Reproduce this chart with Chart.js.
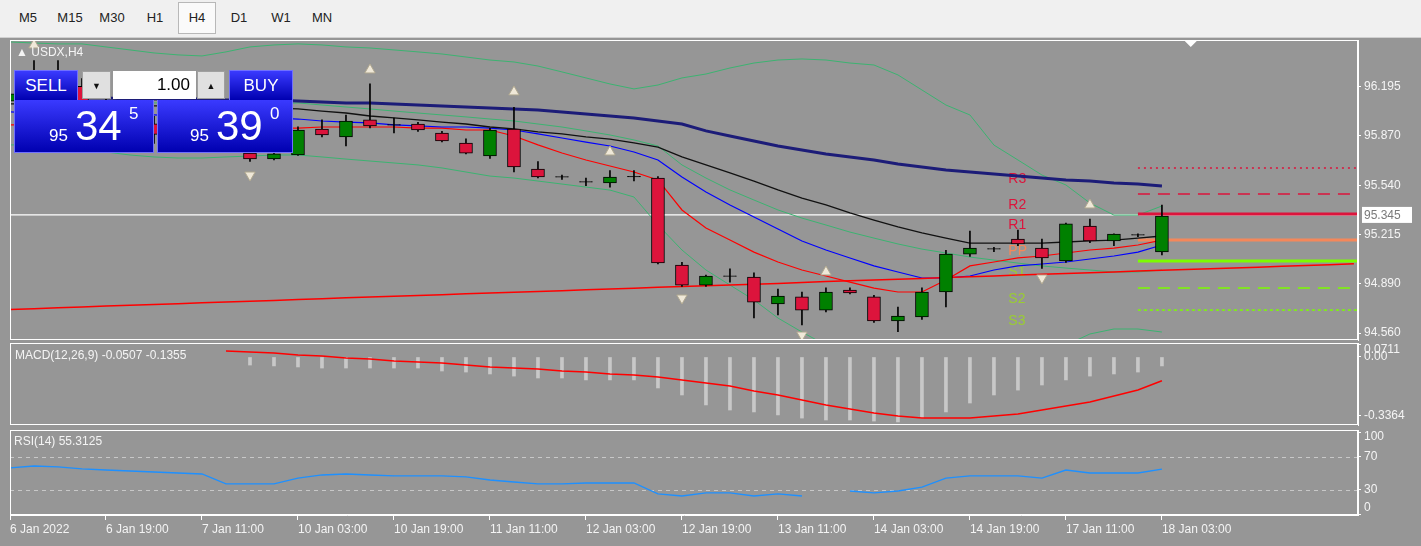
<!DOCTYPE html>
<html><head><meta charset="utf-8">
<script src="https://cdn.jsdelivr.net/npm/chart.js@4.4.1/dist/chart.umd.min.js"></script>
<style>
body{margin:0;width:1421px;height:546px;overflow:hidden;background:#969696;font-family:"Liberation Sans",Arial,sans-serif;position:relative}
#tb{position:absolute;left:0;top:0;width:1421px;height:37px;background:#f0f0f0;border-bottom:1px solid #d0d0d0}
#tb span{position:absolute;top:10px;font-size:13px;color:#222;width:40px;text-align:center}
#tb .sel{top:2px;height:30px;line-height:30px;border:1px solid #b8b8b8;background:#fafafa;width:36px}
canvas{position:absolute;left:0}
.t{position:absolute;color:#f4f4f4;font-size:12px;white-space:nowrap}
.bb{position:absolute;background:linear-gradient(#3a3aff,#0000b0);border:1px solid #7070ff;color:#fff;box-sizing:border-box}
.gb{position:absolute;background:#e0e0e0;border:1px solid #a0a0a0;box-sizing:border-box;font-size:9px;text-align:center;line-height:28px;color:#111}
</style></head><body>
<div id="tb">
<span style="left:8px">M5</span><span style="left:50px">M15</span><span style="left:92px">M30</span><span style="left:135px">H1</span><span class="sel" style="left:178px">H4</span><span style="left:219px">D1</span><span style="left:261px">W1</span><span style="left:302px">MN</span>
</div>
<canvas id="c1" width="1421" height="304" style="top:38px"></canvas>
<canvas id="c2" width="1421" height="86" style="top:341px"></canvas>
<canvas id="c3" width="1421" height="118" style="top:428px"></canvas>
<div class="t" style="left:16px;top:45px;font-size:12px">▲ USDX,H4</div>
<div class="t" style="left:15px;top:348px">MACD(12,26,9) -0.0507 -0.1355</div>
<div class="t" style="left:14px;top:434px">RSI(14) 55.3125</div>
<div class="bb" style="left:14px;top:70px;width:64px;height:31px;font-size:17px;text-align:center;line-height:30px">SELL</div>
<div class="bb" style="left:14px;top:100px;width:140px;height:53px;border-top:none"><span style="position:absolute;left:34px;top:26px;font-size:17px">95</span><span style="position:absolute;left:60px;top:2px;font-size:42px">34</span><span style="position:absolute;left:114px;top:4px;font-size:17px">5</span></div>
<div class="gb" style="left:82px;top:71px;width:29px;height:28px">▼</div>
<div style="position:absolute;left:113px;top:71px;width:83px;height:28px;background:#fff;box-sizing:border-box;font-size:17px;text-align:right;line-height:28px;padding-right:6px;color:#000">1.00</div>
<div class="gb" style="left:197px;top:71px;width:28px;height:28px">▲</div>
<div class="bb" style="left:229px;top:70px;width:64px;height:31px;font-size:17px;text-align:center;line-height:30px">BUY</div>
<div class="bb" style="left:157px;top:100px;width:136px;height:53px;border-top:none"><span style="position:absolute;left:32px;top:26px;font-size:17px">95</span><span style="position:absolute;left:58px;top:2px;font-size:42px">39</span><span style="position:absolute;left:112px;top:4px;font-size:17px">0</span></div>
<script>
const xLabels=["6 Jan 2022","6 Jan 19:00","7 Jan 11:00","10 Jan 03:00","10 Jan 19:00","11 Jan 11:00","12 Jan 03:00","12 Jan 19:00","13 Jan 11:00","14 Jan 03:00","14 Jan 19:00","17 Jan 11:00","18 Jan 03:00"];
const priceTicks=[94.560,94.890,95.215,95.540,95.870,96.195];
const macdTicks=[-0.3364,0,0.0711];
const rsiTicks=[0,30,70,100];
const opens=[96.10,96.15,96.25,96.20,96.08,96.00,95.95,95.88,95.90,95.80,95.756,95.717,95.743,95.916,95.863,95.976,95.943,95.949,95.889,95.823,95.737,95.916,95.650,95.597,95.564,95.557,95.600,95.590,95.012,94.879,94.939,94.932,94.753,94.800,94.713,94.846,94.800,94.640,94.667,94.833,95.085,95.119,95.185,95.125,95.039,95.271,95.172,95.212,95.099];
const highs=[96.20,96.37,96.37,96.25,96.12,96.05,96.00,95.95,95.95,95.85,95.77,95.76,95.93,95.976,96.009,96.215,95.989,95.96,95.90,95.85,95.92,96.06,95.70,95.61,95.59,95.64,95.64,95.60,95.03,94.945,94.986,94.96,94.853,94.833,94.86,94.86,94.81,94.733,94.86,95.11,95.238,95.13,95.245,95.185,95.29,95.318,95.22,95.22,95.41];
const lows=[96.05,96.10,96.15,96.05,95.90,95.85,95.82,95.80,95.79,95.78,95.70,95.71,95.74,95.863,95.803,95.923,95.890,95.90,95.83,95.75,95.72,95.63,95.59,95.58,95.54,95.53,95.57,95.02,94.87,94.87,94.899,94.66,94.68,94.614,94.70,94.82,94.63,94.57,94.65,94.733,95.07,95.10,95.14,94.99,95.03,95.16,95.14,95.20,95.08];
const closes=[96.15,96.25,96.20,96.08,96.00,95.95,95.88,95.90,95.80,95.76,95.717,95.750,95.909,95.876,95.969,95.936,95.943,95.909,95.836,95.756,95.909,95.663,95.597,95.597,95.564,95.597,95.600,95.026,94.879,94.939,94.939,94.766,94.806,94.713,94.833,94.826,94.640,94.673,94.833,95.085,95.125,95.119,95.152,95.059,95.285,95.172,95.218,95.212,95.338];
const maNavy=[96.129,96.129,96.122,96.122,96.122,96.115,96.115,96.115,96.115,96.109,96.109,96.109,96.102,96.095,96.089,96.089,96.082,96.075,96.069,96.062,96.055,96.049,96.042,96.029,96.016,96.002,95.989,95.969,95.949,95.903,95.869,95.836,95.803,95.776,95.750,95.730,95.710,95.683,95.663,95.643,95.630,95.617,95.604,95.590,95.577,95.570,95.557,95.551,95.537];
const maBlack=[96.082,96.082,96.075,96.075,96.075,96.069,96.069,96.069,96.062,96.062,96.062,96.055,96.049,96.035,96.022,96.002,95.989,95.976,95.962,95.949,95.929,95.916,95.896,95.883,95.863,95.849,95.823,95.796,95.730,95.677,95.624,95.570,95.511,95.457,95.411,95.358,95.311,95.265,95.225,95.191,95.158,95.158,95.158,95.158,95.165,95.172,95.178,95.191,95.205];
const maBlue=[96.029,96.022,96.022,96.016,96.016,96.009,96.009,96.002,96.002,95.996,95.996,95.989,95.982,95.969,95.962,95.956,95.943,95.936,95.929,95.929,95.922,95.909,95.883,95.856,95.829,95.803,95.763,95.710,95.597,95.497,95.411,95.331,95.251,95.172,95.112,95.059,95.006,94.966,94.926,94.926,94.939,94.979,95.006,95.019,95.032,95.052,95.072,95.098,95.145];
const maRed=[95.943,95.943,95.936,95.936,95.936,95.929,95.929,95.929,95.929,95.922,95.922,95.922,95.922,95.929,95.929,95.929,95.929,95.922,95.922,95.909,95.909,95.869,95.810,95.756,95.710,95.670,95.630,95.577,95.378,95.258,95.178,95.098,95.032,94.979,94.939,94.899,94.859,94.833,94.833,94.913,95.006,95.032,95.059,95.072,95.092,95.112,95.125,95.145,95.178];
const maLong=[94.717,94.722,94.728,94.733,94.740,94.745,94.750,94.755,94.762,94.767,94.772,94.777,94.783,94.788,94.794,94.799,94.805,94.810,94.815,94.821,94.826,94.832,94.837,94.842,94.848,94.853,94.858,94.864,94.869,94.874,94.880,94.885,94.890,94.896,94.902,94.907,94.912,94.918,94.923,94.929,94.934,94.939,94.945,94.950,94.955,94.961,94.966,94.972,94.977,94.982,94.988,94.993,94.998,95.004,95.009,95.014,95.020];
const bbUpper=[96.494,96.487,96.481,96.481,96.461,96.441,96.421,96.408,96.401,96.428,96.461,96.474,96.481,96.474,96.461,96.454,96.441,96.428,96.414,96.394,96.374,96.361,96.334,96.295,96.255,96.215,96.182,96.208,96.255,96.281,96.321,96.354,96.374,96.381,96.374,96.354,96.341,96.275,96.175,96.075,96.009,95.809,95.710,95.610,95.544,95.424,95.344,95.344,95.404];
const bbMid=[96.109,96.109,96.102,96.102,96.095,96.095,96.089,96.089,96.089,96.082,96.082,96.082,96.089,96.075,96.062,96.049,96.035,96.022,96.009,95.996,95.982,95.969,95.949,95.929,95.903,95.876,95.843,95.803,95.677,95.590,95.511,95.444,95.378,95.324,95.278,95.231,95.191,95.152,95.118,95.092,95.065,95.045,95.025,95.006,94.992,94.979,94.966,94.966,94.979];
const bbLower=[95.810,95.810,95.790,95.776,95.763,95.743,95.730,95.723,95.723,95.730,95.736,95.743,95.743,95.730,95.716,95.703,95.690,95.677,95.657,95.630,95.603,95.590,95.570,95.550,95.530,95.510,95.464,95.278,95.112,94.979,94.879,94.780,94.660,94.567,94.480,94.414,94.414,94.414,94.414,94.414,94.414,94.414,94.414,94.414,94.480,94.554,94.587,94.587,94.567];
const fractalUp=[{i:1,p:96.474},{i:15,p:96.308},{i:21,p:96.162},{i:25,p:95.763},{i:34,p:94.966},{i:45,p:95.411}];
const fractalDown=[{i:10,p:95.610},{i:28,p:94.793},{i:33,p:94.547},{i:43,p:94.926}];
const pivotNames=["R3","R2","R1","PP","S1","S2","S3"];
const pivotValues=[95.657,95.484,95.351,95.178,95.039,94.859,94.713];
const pivotFrom=47, pivotLabelAt=41.6;
const currentPrice=95.345;
const macdHist=[null,null,null,null,null,null,null,null,null,null,-0.046,-0.051,-0.057,-0.063,-0.063,-0.063,-0.063,-0.063,-0.080,-0.086,-0.097,-0.109,-0.120,-0.120,-0.131,-0.131,-0.131,-0.177,-0.217,-0.274,-0.303,-0.314,-0.331,-0.349,-0.360,-0.360,-0.366,-0.371,-0.349,-0.314,-0.263,-0.217,-0.189,-0.160,-0.131,-0.109,-0.097,-0.086,-0.051];
const macdSignal=[null,null,null,null,null,null,null,null,null,0.034,0.029,0.023,0.011,0.006,-0.006,-0.011,-0.023,-0.029,-0.034,-0.046,-0.057,-0.063,-0.069,-0.080,-0.086,-0.097,-0.103,-0.114,-0.131,-0.149,-0.166,-0.194,-0.217,-0.246,-0.274,-0.297,-0.320,-0.337,-0.349,-0.349,-0.349,-0.337,-0.326,-0.303,-0.280,-0.257,-0.223,-0.189,-0.136];
const rsi=[56.7,59.1,57.9,55.5,54.2,53.0,51.8,50.6,49.4,37.3,37.3,37.3,44.5,48.2,49.4,48.2,47.0,47.0,47.0,45.8,42.1,39.7,37.3,37.3,38.5,38.5,38.5,25.2,22.7,26.4,26.4,22.7,25.2,22.7,null,28.8,26.4,28.8,33.6,44.5,47.0,47.0,47.0,44.5,54.2,50.6,50.6,50.6,55.3];

const XMIN=0, XMAX=56.17, W=63;
const FONT={family:"Liberation Sans",size:12};
const TXT="#f4f4f4";
Chart.defaults.animation=false;
Chart.defaults.font=FONT;
const FMT={c1:v=>v.toFixed(3),c2:v=>v===0?'0.00':String(v),c3:v=>String(v)};
const TICKS={c1:priceTicks,c2:macdTicks,c3:rsiTicks};
const pts=a=>a.map((v,i)=>({x:i,y:v}));
const frame={id:'frame',beforeDraw(c){const x=c.ctx;x.save();x.fillStyle='#969696';x.fillRect(0,0,c.width,c.height);x.restore();},
 afterDraw(c){const a=c.chartArea,x=c.ctx,id=c.canvas.id;x.save();x.strokeStyle='#ffffff';x.lineWidth=1;x.strokeRect(a.left+0.5,a.top+0.5,a.width-1,a.height-1);
  const s=c.scales.y;x.fillStyle=TXT;x.font='12px "Liberation Sans"';x.textBaseline='middle';
  TICKS[id].forEach(v=>{let y=s.getPixelForValue(v);y=Math.max(a.top+7,Math.min(a.bottom-7,y));x.fillText(FMT[id](v),a.right+6,y);});
  x.restore();}};
const yAxis=(min,max,ticks)=>({position:'right',min,max,afterFit(s){s.width=W;},
 afterBuildTicks(s){s.ticks=ticks.map(v=>({value:v}));},
 ticks:{display:false},grid:{drawOnChartArea:false,color:'#ffffff',tickLength:3},border:{color:'#ffffff'}});
const xHidden={type:'linear',min:XMIN,max:XMAX,display:false,offset:false};
const common={responsive:false,maintainAspectRatio:false,plugins:{legend:{display:false},tooltip:{enabled:false}}};
const lay=(b)=>({autoPadding:false,padding:{left:10,top:2,right:0,bottom:b}});

const isDoji=i=>Math.abs(opens[i]-closes[i])<0.005;
const bodies=opens.map((o,i)=>({x:i,y:isDoji(i)?[o-0.002,o+0.002]:[o,closes[i]]}));
const bodyColors=opens.map((o,i)=>isDoji(i)?'#000':(closes[i]>o?'#008000':'#dc143c'));
const wicks=highs.map((h,i)=>({x:i,y:[lows[i],h]}));
const pivColors=['#dc143c','#dc143c','#dc143c','#f5875a','#7cfc00','#7cfc00','#7cfc00'];
const pivTxt=['#dc143c','#dc143c','#dc143c','#f5875a','#9acd32','#9acd32','#9acd32'];
const pivDash=[[2,4],[12,8],[],[],[],[12,8],[3,3]];
const pivW=[1.5,1.5,3,3,3,1.5,1.5];
const line=(data,color,w,ord=2)=>({type:'line',data:pts(data),borderColor:color,borderWidth:w,pointRadius:0,order:ord,spanGaps:false});
const ds=[
 {type:'bar',data:bodies,backgroundColor:bodyColors,borderColor:'#000',borderWidth:1,borderSkipped:false,barThickness:13,grouped:false,order:0},
 {type:'bar',data:wicks,backgroundColor:'#000',barThickness:1,grouped:false,order:1},
 line(bbUpper,'#3cb371',1,3),line(bbMid,'#3cb371',1,3),line(bbLower,'#3cb371',1,3),
 line(maLong,'#ff0000',1.5),line(maNavy,'#1c1c78',3),line(maBlack,'#111',1.3),line(maBlue,'#0000ff',1.2),line(maRed,'#ff0000',1.2),
 {type:'scatter',data:fractalUp.map(f=>({x:f.i,y:f.p})),pointStyle:'triangle',pointRadius:6,backgroundColor:'#efe8d8',borderColor:'#b0a890',borderWidth:1,order:0},
 {type:'scatter',data:fractalDown.map(f=>({x:f.i,y:f.p})),pointStyle:'triangle',rotation:180,pointRadius:6,backgroundColor:'#efe8d8',borderColor:'#b0a890',borderWidth:1,order:0},
];
pivotValues.forEach((v,k)=>ds.push({type:'line',data:[{x:pivotFrom,y:v},{x:XMAX,y:v}],borderColor:pivColors[k],borderWidth:pivW[k],borderDash:pivDash[k],pointRadius:0,order:2}));
const mainExtra={id:'mainExtra',
 beforeDatasetsDraw(c){const x=c.ctx,a=c.chartArea,y=c.scales.y.getPixelForValue(currentPrice);x.save();x.strokeStyle='#fff';x.lineWidth=1.2;x.beginPath();x.moveTo(a.left,y);x.lineTo(a.right,y);x.stroke();
  x.font='14px "Liberation Sans"';x.textBaseline='middle';const lx=c.scales.x.getPixelForValue(pivotLabelAt);
  pivotValues.forEach((v,k)=>{x.fillStyle=pivTxt[k];x.fillText(pivotNames[k],lx,c.scales.y.getPixelForValue(v)+11);});x.restore();},
 afterDraw(c){const x=c.ctx,a=c.chartArea,y=c.scales.y.getPixelForValue(currentPrice);x.save();x.fillStyle='#fff';x.fillRect(a.right+4,y-8,50,16);x.fillStyle='#7a7a7a';x.font='12px "Liberation Sans"';x.textBaseline='middle';x.fillText(currentPrice.toFixed(3),a.right+6,y+1);
  x.fillStyle='#fff';const sx=c.scales.x.getPixelForValue(49.2);x.beginPath();x.moveTo(sx-6,a.top+1);x.lineTo(sx+6,a.top+1);x.lineTo(sx,a.top+7);x.fill();x.restore();}};
new Chart(document.getElementById('c1'),{type:'bar',data:{datasets:ds},plugins:[frame,mainExtra],
 options:{...common,layout:lay(2),
 scales:{x:xHidden,y:yAxis(94.514,96.507,priceTicks)}}});

new Chart(document.getElementById('c2'),{type:'bar',plugins:[frame],data:{datasets:[
 {type:'bar',data:pts(macdHist),backgroundColor:'#c8c8c8',barThickness:3,grouped:false,order:1},
 {type:'line',data:pts(macdSignal),borderColor:'#ff0000',borderWidth:1.5,pointRadius:0,order:0}]},
 options:{...common,layout:lay(2),
 scales:{x:xHidden,y:yAxis(-0.3886,0.080,macdTicks)}}});

const rsiLevels={id:'lv',beforeDatasetsDraw(c){const x=c.ctx,a=c.chartArea;x.save();x.strokeStyle='#c8c8c8';x.setLineDash([4,4]);x.lineWidth=1;[70,30].forEach(v=>{const y=Math.round(c.scales.y.getPixelForValue(v))+0.5;x.beginPath();x.moveTo(a.left,y);x.lineTo(a.right,y);x.stroke();});x.restore();}};
new Chart(document.getElementById('c3'),{type:'line',plugins:[frame,rsiLevels],data:{datasets:[
 {data:pts(rsi),borderColor:'#1e90ff',borderWidth:1.3,pointRadius:0,spanGaps:false}]},
 options:{...common,layout:lay(0),
 scales:{x:{type:'linear',min:XMIN,max:XMAX,offset:false,afterFit(s){s.height=31;},
   afterBuildTicks(s){s.ticks=xLabels.map((l,k)=>({value:k*4}));},
   ticks:{color:TXT,font:FONT,align:'start',maxRotation:0,autoSkip:false,padding:2,callback:(v)=>xLabels[v/4]},
   grid:{drawOnChartArea:false,color:'#ffffff',tickLength:5},border:{color:'#ffffff'}},
  y:yAxis(-0.3,102.7,rsiTicks)}}});
</script></body></html>
